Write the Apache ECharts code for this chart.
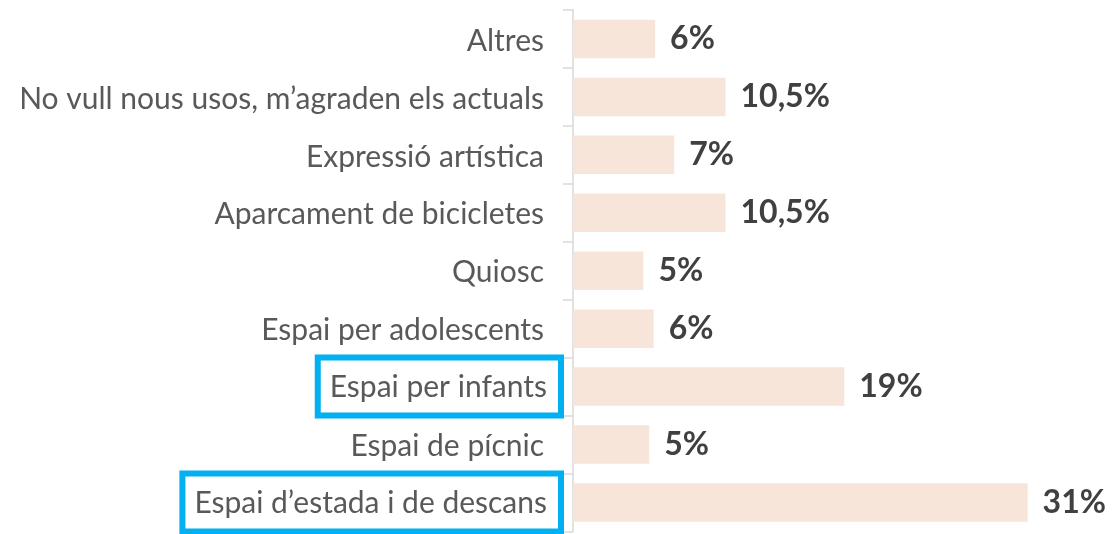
<!DOCTYPE html>
<html>
<head>
<meta charset="utf-8">
<script src="https://cdn.jsdelivr.net/npm/echarts@6/dist/echarts.min.js"></script>
<style>
html,body{margin:0;padding:0;background:#fff;}
#chart{width:1120px;height:534px;}
</style>
</head>
<body>
<div id="chart"></div>
<script>
const categories = [
  'Altres',
  'No vull nous usos, m’agraden els actuals',
  'Expressió artística',
  'Aparcament de bicicletes',
  'Quiosc',
  'Espai per adolescents',
  'Espai per infants',
  'Espai de pícnic',
  'Espai d’estada i de descans'
];
const values = [5.6, 10.4, 6.9, 10.4, 4.8, 5.5, 18.5, 5.2, 31];
const valueLabels = ['6%', '10,5%', '7%', '10,5%', '5%', '6%', '19%', '5%', '31%'];
const highlighted = ['Espai per infants', 'Espai d’estada i de descans'];

const chart = echarts.init(document.getElementById('chart'), null, {renderer: 'canvas'});
const FONT = 'Lato';
chart.setOption({
  animation: false,
  grid: {left: 573, top: 10, height: 529.2, right: 0},
  xAxis: {type: 'value', min: 0, max: 37.3, show: false},
  yAxis: {
    type: 'category',
    data: categories,
    inverse: true,
    axisLine: {lineStyle: {color: '#D9D9D9', width: 1.5}},
    axisTick: {show: true, length: 10, lineStyle: {color: '#D9D9D9', width: 1.5}},
    axisLabel: {
      margin: 12,
      formatter: function (v) {
        return highlighted.indexOf(v) >= 0 ? '{b|' + v + '}' : '{n|' + v + '}';
      },
      rich: {
        n: {fontFamily: FONT, fontSize: 30, color: '#595959', padding: [4, 17, 0, 0]},
        b: {fontFamily: FONT, fontSize: 30, color: '#595959', borderColor: '#00B0F0', borderWidth: 6,
            padding: [15, 14, 13, 12]}
      }
    }
  },
  series: [{
    type: 'bar',
    data: values,
    barWidth: 38.5,
    itemStyle: {color: '#F7E5DA'},
    label: {
      show: true,
      position: 'right',
      distance: 15,
      fontFamily: FONT,
      fontWeight: 'bold',
      fontSize: 32,
      color: '#404040',
      padding: [4, 0, 0, 0],
      formatter: function (p) { return valueLabels[p.dataIndex]; }
    }
  }]
});
</script>
</body>
</html>
